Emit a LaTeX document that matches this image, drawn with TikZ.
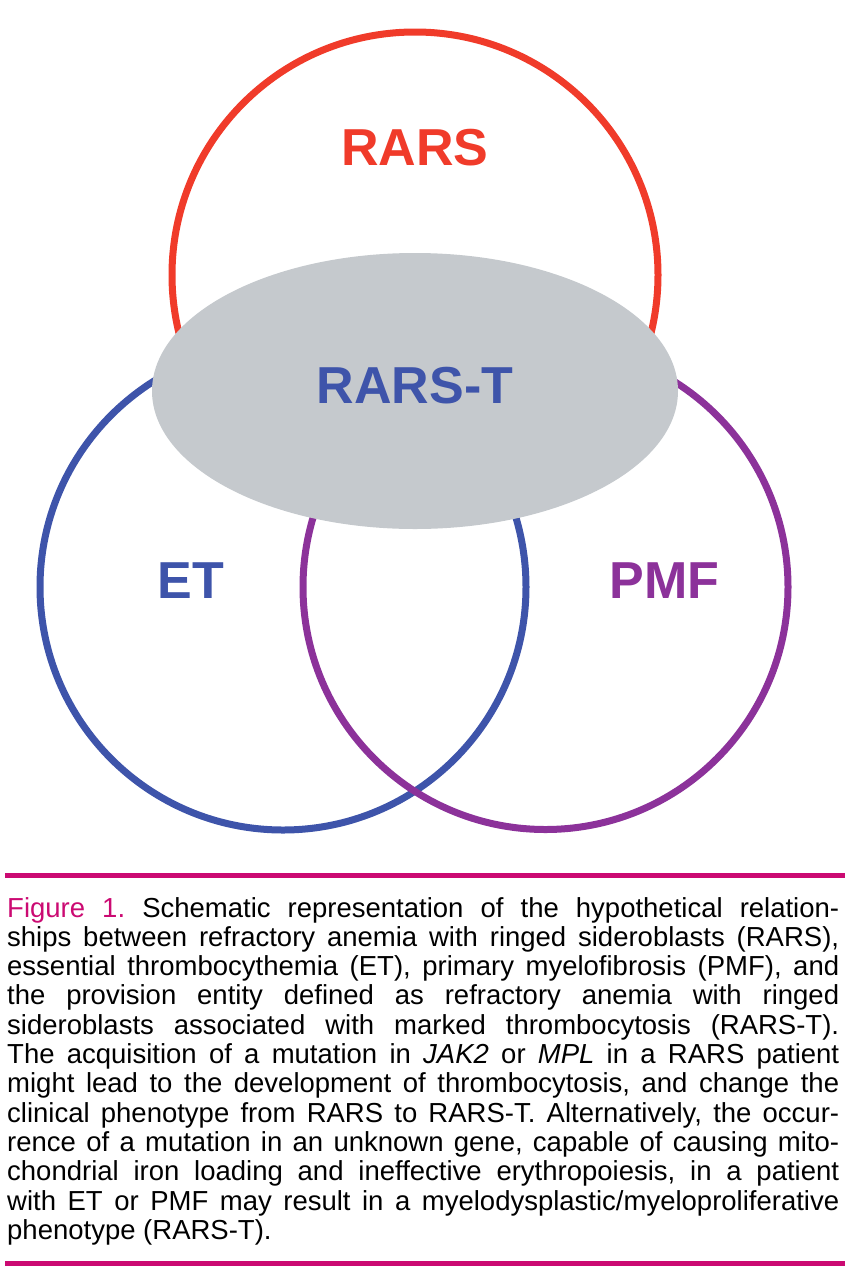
\documentclass[tikz,border=0pt]{standalone}
\usepackage{fontspec}
\setmainfont{Liberation Sans}
\usetikzlibrary{shapes.geometric}
\definecolor{rarsred}{RGB}{240,59,42}
\definecolor{etblue}{RGB}{62,84,170}
\definecolor{pmfpurple}{RGB}{140,50,154}
\definecolor{ovgrey}{RGB}{197,201,205}
\definecolor{figmag}{RGB}{203,10,114}
\frenchspacing
\begin{document}
\begin{tikzpicture}[x=1pt,y=-1pt,
  ring/.style={line width=7pt},
  biglabel/.style={font=\fontsize{52}{52}\selectfont\bfseries, inner sep=0pt},
  capline/.style={anchor=base west, inner sep=0pt, font=\fontsize{27.5}{29}\selectfont},
  rule/.style={line width=5pt, draw=figmag}]
\useasboundingbox (0,0) rectangle (848,1280);
% circles
\draw[ring, rarsred] (415,275) circle (243);
\draw[ring, etblue] (283,587) circle (243);
\draw[ring, pmfpurple] (545.5,587) circle (242.5);
% overlap ellipse
\fill[ovgrey] (415,391) ellipse (263 and 138);
% labels
\node[biglabel, text=rarsred] (rars) at (415,148) {RARS};
\node[biglabel, text=etblue] (rarst) at (415,386) {RARS-T};
\node[biglabel, text=etblue] (et) at (191,581) {ET};
\node[biglabel, text=pmfpurple] (pmf) at (664.5,581) {PMF};
% rules
\coordinate (r1a) at (5,875.5); \coordinate (r1b) at (845,875.5);
\coordinate (r2a) at (5,1263.5); \coordinate (r2b) at (845,1263.5);
\draw[rule] (r1a) -- (r1b);
\draw[rule] (r2a) -- (r2b);
% caption
\def\capw{832pt}
\node[capline] (c1) at (7,917) {\makebox[\capw][s]{{\color{figmag}Figure 1.} Schematic representation of the hypothetical relation-}};
\node[capline] (c2) at (7,946.3) {\makebox[\capw][s]{ships between refractory anemia with ringed sideroblasts (RARS),}};
\node[capline] (c3) at (7,975.6) {\makebox[\capw][s]{essential thrombocythemia (ET), primary myelofibrosis (PMF), and}};
\node[capline] (c4) at (7,1004.9) {\makebox[\capw][s]{the provision entity defined as refractory anemia with ringed}};
\node[capline] (c5) at (7,1034.2) {\makebox[\capw][s]{sideroblasts associated with marked thrombocytosis (RARS-T).}};
\node[capline] (c6) at (7,1063.5) {\makebox[\capw][s]{The acquisition of a mutation in \textit{JAK2} or \textit{MPL} in a RARS patient}};
\node[capline] (c7) at (7,1092.8) {\makebox[\capw][s]{might lead to the development of thrombocytosis, and change the}};
\node[capline] (c8) at (7,1122.1) {\makebox[\capw][s]{clinical phenotype from RARS to RARS-T. Alternatively, the occur-}};
\node[capline] (c9) at (7,1151.4) {\makebox[\capw][s]{rence of a mutation in an unknown gene, capable of causing mito-}};
\node[capline] (c10) at (7,1180.7) {\makebox[\capw][s]{chondrial iron loading and ineffective erythropoiesis, in a patient}};
\node[capline] (c11) at (7,1210) {\makebox[\capw][s]{with ET or PMF may result in a myelodysplastic/myeloproliferative}};
\node[capline] (c12) at (7,1239.3) {phenotype (RARS-T).};
\end{tikzpicture}
\end{document}
